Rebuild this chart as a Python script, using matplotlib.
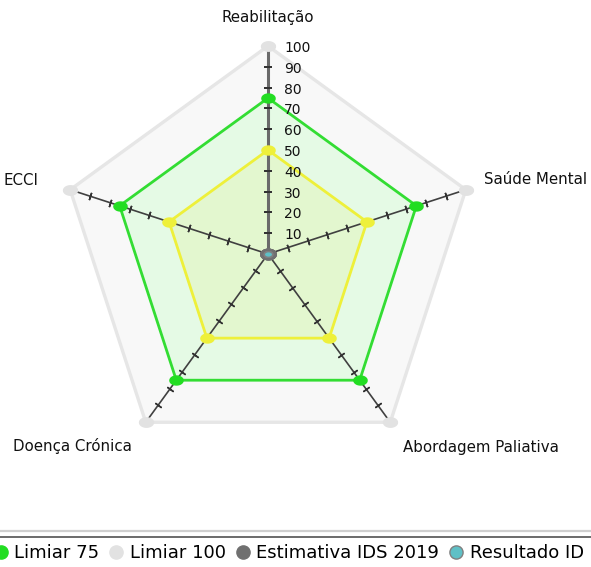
import numpy as np
import matplotlib
matplotlib.use("Agg")
import matplotlib.pyplot as plt
from matplotlib.lines import Line2D

# ---- data ----
categories = ["Reabilitação", "Saúde Mental", "Abordagem Paliativa", "Doença Crónica", "ECCI"]
limiar_100 = [100, 100, 100, 100, 100]
limiar_75 = [75, 75, 75, 75, 75]
limiar_50 = [50, 50, 50, 50, 50]
estimativa_2019 = [0, 0, 0, 0, 0]
resultado_ids = [0, 0, 0, 0, 0]
tick_values = [10, 20, 30, 40, 50, 60, 70, 80, 90, 100]
legend_labels = ["Limiar 75", "Limiar 100", "Estimativa IDS 2019", "Resultado ID"]

plt.rcParams['font.family'] = ['DejaVu Sans']

W, H = 591, 567
fig = plt.figure(figsize=(W / 100, H / 100), dpi=100)
fig.patch.set_facecolor("white")

cx, cy, R = 268, 254, 208
ax = fig.add_axes([(cx - R) / W, (H - cy - R) / H, 2 * R / W, 2 * R / H], projection="polar")
ax.set_theta_offset(np.pi / 2)
ax.set_theta_direction(-1)
ax.set_ylim(0, 100)
ax.grid(False)
ax.spines["polar"].set_visible(False)
ax.set_xticks([])
ax.set_yticks([])
ax.patch.set_alpha(0)

n = len(categories)
theta = np.arange(n) * 2 * np.pi / n
theta_c = np.append(theta, theta[0])

_t = np.linspace(0, 2 * np.pi, 40)
ellipse = np.column_stack([np.cos(_t), 0.68 * np.sin(_t)])


def closed(v):
    return np.append(v, v[0])


# polygons (fills then outlines)
ax.fill(theta_c, closed(limiar_100), color="#f8f8f8", zorder=1)
ax.plot(theta_c, closed(limiar_100), color="#e6e6e6", lw=2.4, zorder=2, clip_on=False)
ax.fill(theta_c, closed(limiar_75), color="#e5fae5", zorder=3)
ax.fill(theta_c, closed(limiar_50), color="#e3f7cf", zorder=3.5)

# spokes with tick marks
for i, t in enumerate(theta):
    disp_angle = 90 - np.degrees(t)
    if i == 0:
        ax.plot([t, t], [0, 100], color="#6a6a6a", lw=2.2, zorder=4, clip_on=False)
    else:
        ax.plot([t, t], [0, 100], color="#404040", lw=1.2, zorder=4, clip_on=False)
    ax.plot([t] * (len(tick_values) - 1), tick_values[:-1], linestyle="none",
            marker=(2, 2, disp_angle), markersize=5.5, markeredgewidth=1.1,
            color="#333333", zorder=4.5)

ax.plot(theta_c, closed(limiar_75), color="#33dd33", lw=2.0, zorder=5)
ax.plot(theta_c, closed(limiar_50), color="#eef03a", lw=2.0, zorder=5)

# vertex markers
h100, = ax.plot(theta, limiar_100, linestyle="none", marker=ellipse, color="#e2e2e2",
                markersize=10, zorder=6, clip_on=False, label=legend_labels[1])
h75, = ax.plot(theta, limiar_75, linestyle="none", marker=ellipse, color="#22dd22",
               markersize=9.5, zorder=6, label=legend_labels[0])
ax.plot(theta, limiar_50, linestyle="none", marker=ellipse, color="#eef03a",
        markersize=9.5, zorder=6)
hest, = ax.plot(theta, estimativa_2019, linestyle="none", marker=ellipse, color="#707070",
                markersize=11, zorder=7, label=legend_labels[2])
hres, = ax.plot(theta, resultado_ids, linestyle="none", marker=ellipse, color="#5fc0c6",
                markeredgecolor="#808080", markersize=6, zorder=8, label=legend_labels[3])

# radial tick labels on the top axis
for v in tick_values:
    ax.annotate(str(v), xy=(0, v), xytext=(16, -2), textcoords="offset pixels",
                ha="left", va="center", fontsize=10, color="#111111", zorder=9)

# category labels
label_pos = [(0.0, 113.5, "center"), (71.1, 110, "left"), (145.2, 113.5, "left"),
             (215.4, 113, "right"), (287.8, 116, "right")]
for name, (ang, r, ha) in zip(categories, label_pos):
    ax.text(np.radians(ang), r, name, ha=ha, va="center", fontsize=10.8, color="#111111")

# separator above legend
fig.add_artist(Line2D([0, 1], [(H - 531) / H] * 2, transform=fig.transFigure,
                      color="#cfcfcf", lw=1.6))
fig.add_artist(Line2D([0, 1], [(H - 536.5) / H] * 2, transform=fig.transFigure,
                      color="#6a6a6a", lw=1.4))

leg_handles = []
for h in [h75, h100, hest, hres]:
    leg_handles.append(Line2D([], [], linestyle="none", marker="o",
                              color=h.get_color(), markeredgecolor=h.get_markeredgecolor(),
                              markersize=9.5))
fig.legend(leg_handles, legend_labels, loc="center left",
           bbox_to_anchor=(-6.7 / W, (H - 553) / H), ncol=4, frameon=False,
           borderpad=0, borderaxespad=0, handlelength=0.8, handletextpad=0.35,
           columnspacing=0.54, fontsize=13)

fig.savefig("out.png", dpi=100)
